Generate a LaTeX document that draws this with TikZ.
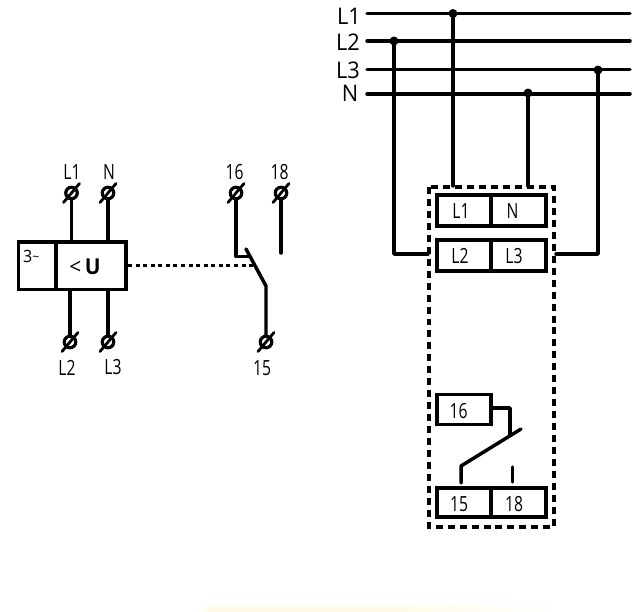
\documentclass[tikz,border=0pt]{standalone}
\usepackage{fontspec}
\setmainfont[FakeStretch=0.75]{Open Sans}
\newfontfamily\widefont[FakeStretch=0.95]{Open Sans}
\usetikzlibrary{calc}
\definecolor{strip}{HTML}{FFFBE8}
\tikzset{
  wire/.style={line width=3.5pt,line cap=round,line join=round},
  boxline/.style={draw,line width=3.6pt,inner sep=0pt,outer sep=0pt,anchor=north west},
  lbl/.style={inner sep=0pt,font=\fontsize{21}{21}\selectfont},
  bus/.style={inner sep=0pt,font=\widefont\fontsize{23}{23}\selectfont},
  dotj/.style={circle,fill=black,inner sep=0pt,minimum size=9pt},
  term/.style={circle,draw,line width=3.2pt,inner sep=0pt,minimum size=11.5pt},
  slash/.style={line width=2.8pt,line cap=round},
}
\newcommand{\terminal}[3]{%
  \node[term] (#1) at (#2,#3) {};
  \draw[slash] ($(#1)+(-8,9.5)$) -- ($(#1)+(8,-9.5)$);
}
\begin{document}
\begin{tikzpicture}[x=1bp,y=-1bp]
\useasboundingbox (0,0) rectangle (633,612);
% faint strip
\shade[left color=strip,right color=white,middle color=strip] (205,606) rectangle (575,612);
% bus bars
\coordinate (l1a) at (367,13.5); \coordinate (l1b) at (630,13.5);
\coordinate (l2a) at (367,41); \coordinate (l2b) at (630,41);
\coordinate (l3a) at (367,69.5); \coordinate (l3b) at (630,69.5);
\coordinate (na) at (367,94); \coordinate (nb) at (630,94);
\draw[wire] (l1a)--(l1b);
\draw[wire] (l2a)--(l2b);
\draw[wire] (l3a)--(l3b);
\draw[wire] (na)--(nb);
\node[bus] (tL1) at (349,16) {L1};
\node[bus] (tL2) at (348,42.5) {L2};
\node[bus] (tL3) at (348,70) {L3};
\node[bus] (tN) at (350,93) {N};
\node[dotj] (d1) at (453,13.5) {};
\node[dotj] (d2) at (394,41) {};
\node[dotj] (d3) at (598,70) {};
\node[dotj] (d4) at (528,93) {};
% right module
\draw[line width=3.2pt,dash pattern=on 7pt off 5pt] (429,187) rectangle (554,527);
\node[boxline,minimum width=54bp,minimum height=31bp] (rL1) at (437,195) {};
\node[boxline,minimum width=55bp,minimum height=31bp] (rN) at (491,195) {};
\node[boxline,minimum width=54bp,minimum height=31bp] (rL2) at (437,240) {};
\node[boxline,minimum width=55bp,minimum height=31bp] (rL3) at (491,240) {};
\node[boxline,minimum width=54bp,minimum height=30bp] (r16) at (437,394.5) {};
\node[boxline,minimum width=54bp,minimum height=29bp] (r15) at (437,488) {};
\node[boxline,minimum width=55bp,minimum height=29bp] (r18) at (491,488) {};
\node[lbl] at (461,211) {L1};
\node[lbl] at (512.5,211) {N};
\node[lbl] at (460,256) {L2};
\node[lbl] at (514,256) {L3};
\node[lbl] at (458.5,411) {16};
\node[lbl] at (459,504) {15};
\node[lbl] at (514,504) {18};
\draw[wire] (d1) -- (453,186);
\draw[wire] (d4) -- (528,186);
\coordinate (c2) at (428,254);
\coordinate (c3) at (556,254);
\draw[wire] (d2) |- (c2);
\draw[wire] (d3) |- (c3);
\coordinate (c16a) at (492,408);
\coordinate (c16b) at (510,408);
\coordinate (c16c) at (510,435);
\draw[wire] (c16a) -- (c16b) -- (c16c);
\coordinate (ba) at (521,429);
\coordinate (bb) at (461,466);
\coordinate (bc) at (461,483);
\draw[wire] (ba) -- (bb) -- (bc);
\coordinate (r18a) at (512.5,467);
\coordinate (r18b) at (512.5,482);
\draw[wire] (r18a) -- (r18b);
% left symbol
\terminal{tl1}{71.5}{193}
\terminal{tn}{108}{193}
\terminal{tl2}{70}{342}
\terminal{tl3}{108}{342}
\terminal{t16}{236}{193}
\terminal{t18}{281}{193}
\terminal{t15}{266}{342}
\node[boxline,minimum width=37.5bp,minimum height=47.5bp] (b3) at (18.5,242) {};
\node[boxline,minimum width=70bp,minimum height=47.5bp] (bU) at (56,242) {};
\node[inner sep=0pt,anchor=west,font=\widefont\fontsize{17}{17}\selectfont] (t3) at (23,256) {3\raisebox{1pt}{\fontsize{13}{13}\selectfont\symbol{126}}};
\node[inner sep=0pt,font=\widefont\fontsize{22}{22}\selectfont] (tU) at (85,267) {<\,\textbf{U}};
\draw[wire] (tl1) -- (71.5,242);
\draw[wire] (tn) -- (108,242);
\draw[wire] (tl2) -- (70,290);
\draw[wire] (tl3) -- (108,290);
\coordinate (p1) at (236,256.5);
\coordinate (p2) at (249,256.5);
\draw[wire] (t16) -- (p1) -- (p2);
\coordinate (q1) at (246,249);
\coordinate (q2) at (266,286);
\draw[wire] (q1) -- (q2) -- (t15);
\coordinate (e18) at (281,253);
\draw[wire] (t18) -- (e18);
\coordinate (dl) at (128,265.5);
\coordinate (dr) at (253,265.5);
\draw[line width=3.2pt,dash pattern=on 4pt off 3.6pt] (dl) -- (dr);
\node[lbl] at (72,172) {L1};
\node[lbl] at (109,172) {N};
\node[lbl] at (67,367.5) {L2};
\node[lbl] at (113,367.5) {L3};
\node[lbl] at (234.5,172) {16};
\node[lbl] at (279.5,172) {18};
\node[lbl] at (262,368) {15};
\end{tikzpicture}
\end{document}
